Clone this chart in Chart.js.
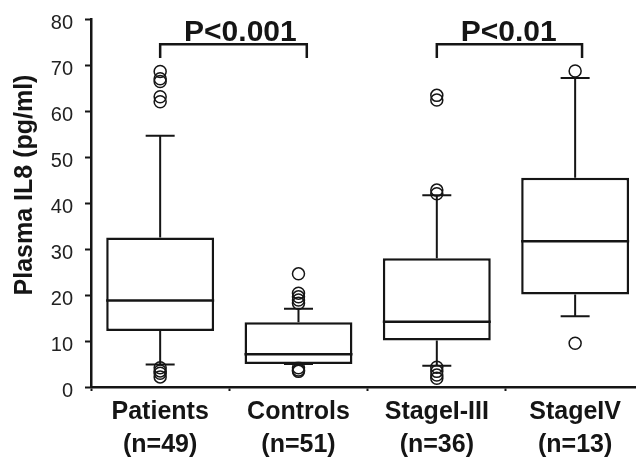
<!DOCTYPE html>
<html>
<head>
<meta charset="utf-8">
<script src="https://cdn.jsdelivr.net/npm/chart.js@4"></script>
<style>
  body { margin: 0; background: #fff; }
  canvas { display: block; }
</style>
</head>
<body>
<canvas id="myChart" width="636" height="457"></canvas>
<script>
const categories = ['Patients', 'Controls', 'StageI-III', 'StageIV']
const groupSizes = ['(n=49)', '(n=51)', '(n=36)', '(n=13)']
const q1 = [12.2, 5.0, 10.1, 20.1]
const median = [18.8, 7.1, 14.2, 31.7]
const q3 = [32.5, 14.1, 28.0, 45.5]
const whiskerLow = [4.9, 5.0, 4.6, 15.4]
const whiskerHigh = [54.6, 17.0, 41.7, 67.2]
const outliers = [
    [68.6, 67.0, 66.4, 63.1, 62.0, 4.2, 3.5, 3.0, 2.2],
    [24.6, 20.4, 19.6, 18.9, 18.2, 4.2, 3.7, 3.4],
    [63.4, 62.4, 42.8, 42.0, 4.3, 3.4, 2.6, 1.9],
    [68.7, 9.5]
]
const yTicks = [0, 10, 20, 30, 40, 50, 60, 70, 80]
const pLabels = ['P<0.001', 'P<0.01']
const pFrom = [0, 2]
const pTo = [1.06, 3.05]
const pTextAt = [0.58, 2.52]
const pBarY = 74.5
const pLegY = 71.5

const ink = '#151515'
const fontFamily = "'Liberation Sans', Arial, Helvetica, sans-serif"

const boxData = categories.map((c, i) => ({ x: i, y: [q1[i], q3[i]] }))
const outlierData = []
outliers.forEach((list, i) => list.forEach(v => outlierData.push({ x: i, y: v })))

// whiskers, medians, brackets and the rotated axis title
const boxExtras = {
    id: 'boxExtras',
    beforeDatasetsDraw(chart) {
        const { ctx, scales: { x, y } } = chart
        ctx.save()
        ctx.strokeStyle = ink
        ctx.lineWidth = 2
        categories.forEach((c, i) => {
            const px = x.getPixelForValue(i)
            ctx.beginPath()
            ctx.moveTo(px, y.getPixelForValue(q3[i]))
            ctx.lineTo(px, y.getPixelForValue(whiskerHigh[i]))
            ctx.moveTo(px, y.getPixelForValue(q1[i]))
            ctx.lineTo(px, y.getPixelForValue(whiskerLow[i]))
            ctx.moveTo(px - 14.5, y.getPixelForValue(whiskerHigh[i]))
            ctx.lineTo(px + 14.5, y.getPixelForValue(whiskerHigh[i]))
            ctx.moveTo(px - 14.5, y.getPixelForValue(whiskerLow[i]))
            ctx.lineTo(px + 14.5, y.getPixelForValue(whiskerLow[i]))
            ctx.stroke()
        })
        ctx.restore()
    },
    afterDatasetsDraw(chart) {
        const { ctx, scales: { x, y } } = chart
        ctx.save()
        ctx.strokeStyle = ink
        ctx.lineWidth = 2.5
        categories.forEach((c, i) => {
            const px = x.getPixelForValue(i)
            const py = y.getPixelForValue(median[i])
            ctx.beginPath()
            ctx.moveTo(px - 54, py)
            ctx.lineTo(px + 54, py)
            ctx.stroke()
        })

        ctx.lineWidth = 2.5
        ctx.fillStyle = ink
        ctx.font = 'bold 30px ' + fontFamily
        ctx.textAlign = 'center'
        ctx.textBaseline = 'alphabetic'
        pLabels.forEach((t, i) => {
            const xa = x.getPixelForValue(pFrom[i])
            const xb = x.getPixelForValue(pTo[i])
            const yb = y.getPixelForValue(pBarY)
            const yl = y.getPixelForValue(pLegY)
            ctx.beginPath()
            ctx.moveTo(xa, yl)
            ctx.lineTo(xa, yb)
            ctx.lineTo(xb, yb)
            ctx.lineTo(xb, yl)
            ctx.stroke()
            ctx.fillText(t, x.getPixelForValue(pTextAt[i]), yb - 3)
        })

        ctx.font = 'bold 25px ' + fontFamily
        ctx.translate(31.5, 185)
        ctx.rotate(-Math.PI / 2)
        ctx.fillText('Plasma IL8 (pg/ml)', 0, 0)
        ctx.restore()
    }
}

const ctx = document.getElementById('myChart')

const myChart = new Chart(ctx, {
    type: 'bar',
    data: {
        datasets: [{
            type: 'bar',
            data: boxData,
            backgroundColor: '#fff',
            borderColor: ink,
            borderWidth: 2.5,
            borderSkipped: false,
            categoryPercentage: 1,
            barPercentage: 0.78
        }, {
            type: 'scatter',
            data: outlierData,
            pointStyle: 'circle',
            pointRadius: 6,
            pointBorderWidth: 1.5,
            pointBackgroundColor: 'rgba(0,0,0,0)',
            pointBorderColor: ink,
            clip: false
        }]
    },
    options: {
        responsive: false,
        animation: false,
        layout: { autoPadding: false, padding: { top: 19, right: 0, bottom: 0, left: 0 } },
        plugins: {
            legend: { display: false },
            tooltip: { enabled: false }
        },
        scales: {
            x: {
                type: 'linear',
                offset: false,
                min: -0.5,
                max: 3.44,
                afterFit(scale) {
                    scale.height = 70
                    scale.paddingLeft = 0
                    scale.paddingRight = 0
                },
                afterBuildTicks(scale) {
                    scale.ticks = categories.map((c, i) => ({ value: i }))
                },
                grid: { drawOnChartArea: false, tickLength: 4, tickWidth: 2, tickColor: ink },
                border: { color: ink, width: 2.5 },
                ticks: {
                    autoSkip: false,
                    maxRotation: 0,
                    padding: 5,
                    color: ink,
                    font: { family: fontFamily, size: 25, weight: 'bold', lineHeight: 1.3 },
                    callback: (v) => [categories[v], groupSizes[v]]
                }
            },
            y: {
                min: 0,
                max: 80,
                afterFit(scale) {
                    scale.width = 91
                    scale.paddingTop = 0
                    scale.paddingBottom = 0
                },
                afterBuildTicks(scale) {
                    const list = []
                    yTicks.forEach((t, i) => {
                        list.push({ value: t })
                        if (i < yTicks.length - 1) list.push({ value: t + 5 })
                    })
                    scale.ticks = list
                },
                grid: { drawOnChartArea: false, tickLength: 6, tickWidth: 2, tickColor: ink },
                border: { color: ink, width: 2.5 },
                ticks: {
                    padding: 12,
                    labelOffset: 4,
                    color: '#222',
                    font: { family: fontFamily, size: 20 },
                    callback: (v) => (yTicks.includes(v) ? v : '')
                }
            }
        }
    },
    plugins: [boxExtras]
})
</script>
</body>
</html>
